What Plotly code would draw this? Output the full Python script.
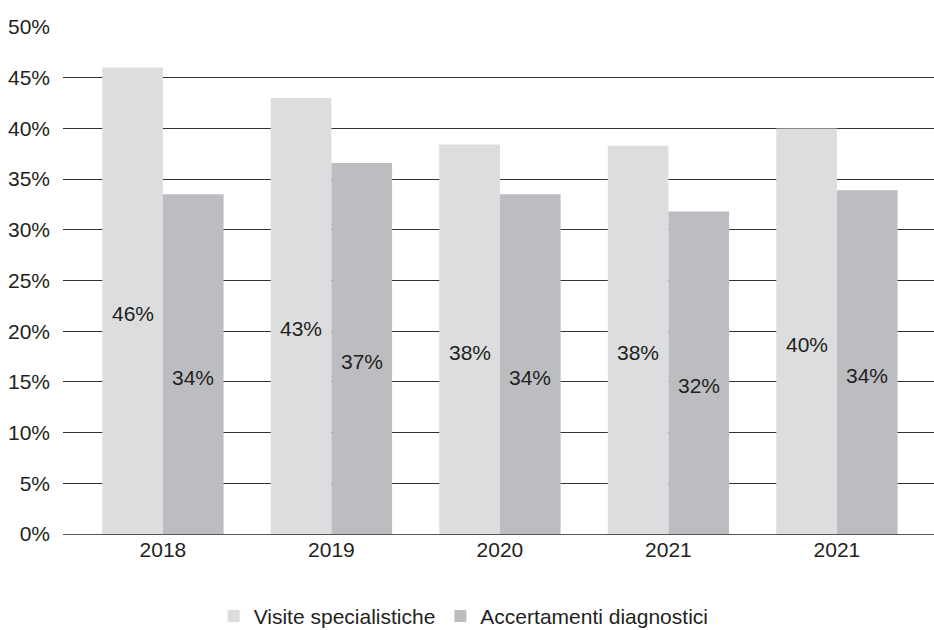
import plotly.graph_objects as go

# Anni (l'ultimo anno compare due volte nella fonte)
years = ["2018", "2019", "2020", "2021", "2021"]
visite = [46.0, 43.0, 38.4, 38.3, 40.0]
accertamenti = [33.5, 36.6, 33.5, 31.8, 33.9]
y_ticks = [0, 5, 10, 15, 20, 25, 30, 35, 40, 45, 50]

FONT = "Liberation Sans, Arial, sans-serif"
FS = 21
TEXT = "#231f20"
LIGHT = "#dcdddf"
DARK = "#bcbdc0"

pos = list(range(len(years)))

fig = go.Figure()
fig.add_trace(go.Bar(x=pos, y=visite, name="Visite specialistiche",
                     marker=dict(color=LIGHT, line=dict(width=0))))
fig.add_trace(go.Bar(x=pos, y=accertamenti, name="Accertamenti diagnostici",
                     marker=dict(color=DARK, line=dict(width=0))))

# Etichette dei valori al centro delle barre
group_w = 0.72
bar_w = group_w / 2
for i, (v, a) in enumerate(zip(visite, accertamenti)):
    for off, val in ((-bar_w / 2, v), (bar_w / 2, a)):
        fig.add_annotation(x=i + off, y=val / 2, text=f"{val:.0f}%",
                           showarrow=False, yshift=-13,
                           font=dict(family=FONT, size=FS, color=TEXT))

fig.update_layout(
    width=934, height=630,
    margin=dict(l=63, r=0, t=27, b=96, autoexpand=False),
    paper_bgcolor="white", plot_bgcolor="white",
    barmode="group", bargap=1 - group_w, bargroupgap=0,
    font=dict(family=FONT, size=FS, color=TEXT),
    showlegend=True,
    legend=dict(orientation="h", x=0.46, xanchor="center",
                yref="paper", y=-0.122, yanchor="top",
                font=dict(family=FONT, size=FS, color=TEXT),
                itemwidth=30, tracegroupgap=0),
    xaxis=dict(tickmode="array", tickvals=pos, ticktext=years,
               range=[-0.593, 4.576], showgrid=False, zeroline=False,
               showline=True, linecolor="#555555", linewidth=1.3,
               ticks="", ticklabelstandoff=-3,
               tickfont=dict(family=FONT, size=FS, color=TEXT)),
    yaxis=dict(range=[0, 50], tickvals=y_ticks,
               ticktext=[f"{t}%" for t in y_ticks],
               showgrid=True, gridcolor="#333333", gridwidth=1.3,
               zeroline=False, showline=False, ticks="",
               ticklabelstandoff=12,
               tickfont=dict(family=FONT, size=FS, color=TEXT)),
)

fig.write_html("out.html")
